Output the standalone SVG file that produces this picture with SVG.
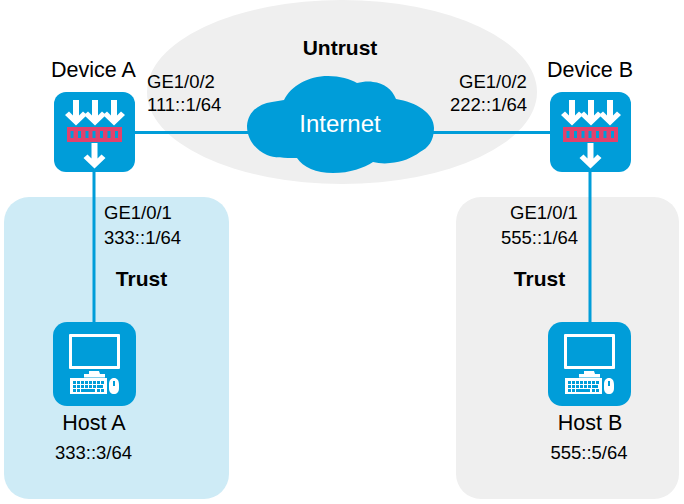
<svg xmlns="http://www.w3.org/2000/svg" width="684" height="504" viewBox="0 0 684 504">
<style>
text{font-family:"Liberation Sans",Arial,sans-serif;font-size:18.500px;fill:#000}
.d{font-size:21.500px}
.b{font-weight:bold;font-size:21px}
.c{text-anchor:middle}
.i{fill:#009dd9}
.w{fill:#fff}
.ln{stroke:#009dd9;stroke-width:3;fill:none}
</style>
<defs>
<path id="ar" class="w" d="M-3 0h6v15.500l4-4 4 3.500-11 10.500-11-10.500 4-3.500 4 4z"/>
<g id="dev">
<rect x="0" y="0" width="81" height="80" rx="12" class="i"/>
<use href="#ar" x="22" y="8"/>
<use href="#ar" x="41" y="8"/>
<use href="#ar" x="60" y="8"/>
<rect x="13" y="35" width="55" height="15" fill="#e2416c"/>
<path class="i" d="M16.500 39h3v7h-3zM24 39h3v7h-3zM31.500 39h3v7h-3zM38.500 39h3v7h-3zM46 39h3v7h-3zM53.500 39h3v7h-3zM61 39h3v7h-3z"/>
<use href="#ar" x="40.500" y="51"/>
</g>
<g id="host">
<rect x="0" y="0" width="83" height="84" rx="14" class="i"/>
<path class="w" fill-rule="evenodd" d="M17 12h49a1 1 0 0 1 1 1v33a1 1 0 0 1-1 1h-49a1 1 0 0 1-1-1v-33a1 1 0 0 1 1-1zM19 15v29h45v-29z"/>
<path class="w" d="M36 49h10l1 3h5v3.500h-21v-3.500h5z"/>
<path class="w" fill-rule="evenodd" d="M17 56h37v16h-37zM20 59v3h3v-3zM24 59v3h3v-3zM28 59v3h3v-3zM32 59v3h3v-3zM36 59v3h3v-3zM40 59v3h3v-3zM44 59v3h3v-3zM48 59v3h3v-3zM20 63v3h3v-3zM24 63v3h3v-3zM28 63v3h3v-3zM32 63v3h3v-3zM36 63v3h3v-3zM40 63v3h3v-3zM44 63v3h6v-3zM20 67v3h3v-3zM24 67v3h3v-3zM28 67v3h14v-3zM44 67v3h3v-3zM48 67v3h3v-3z"/>
<path class="w" fill-rule="evenodd" d="M61 56c3 0 5 2 5 7v3c0 4-2 6-5 6s-5-2-5-6v-3c0-5 2-7 5-7zM60 59v5h2v-5z"/>
</g>
</defs>
<g id="zones">
<ellipse id="untrust-zone" cx="342" cy="92" rx="195" ry="92" fill="#efefef"/>
<rect id="trust-a" x="4" y="197" width="225" height="302" rx="25" fill="#ceebf6"/>
<rect id="trust-b" x="456" y="197" width="223" height="302" rx="25" fill="#efefef"/>
</g>
<g id="connectors">
<path class="ln" d="M135 132.500H250M432 132.500H550M94 170V322M590 172V322"/>
</g>
<g id="untrust-label"><text class="b c" x="340" y="55">Untrust</text></g>
<g id="internet">
<path class="i" d="M247 126C248 112 258 104 272 102C276 101 280 101 284 100C291 86 308 76 328 76C340 76 350 79 357 83C362 82 368 81 373 82C384 83 392 89 396 99C416 102 434 113 434 128C434 141 428 148 420 152C412 158 402 162 390 163C384 164 378 163 373 162C364 168 350 173 333 173C316 173 303 167 297 158C284 158 274 158 267 155C254 149 247 138 247 126Z"/>
<text class="c" x="340" y="132" style="fill:#fff;font-size:24px">Internet</text>
</g>
<g id="device-a"><use href="#dev" x="54" y="92"/><text class="c d" x="93.500" y="77">Device A</text></g>
<g id="device-b"><use href="#dev" x="550" y="92"/><text class="c d" x="590" y="77">Device B</text></g>
<g id="host-a"><use href="#host" x="53" y="322"/><text class="c d" x="94" y="430">Host A</text><text class="c" x="93.500" y="459">333::3/64</text></g>
<g id="host-b"><use href="#host" x="548" y="322"/><text class="c d" x="590" y="430">Host B</text><text class="c" x="589" y="459">555::5/64</text></g>
<g id="labels">
<text x="147" y="88">GE1/0/2</text><text x="147" y="111">111::1/64</text>
<text x="459" y="88">GE1/0/2</text><text x="450" y="111">222::1/64</text>
<text x="104" y="219">GE1/0/1</text><text x="104" y="244">333::1/64</text>
<text x="510" y="219">GE1/0/1</text><text x="501" y="244">555::1/64</text>
<text class="b c" x="141.500" y="286">Trust</text><text class="b c" x="539.500" y="286">Trust</text>
</g>
</svg>
